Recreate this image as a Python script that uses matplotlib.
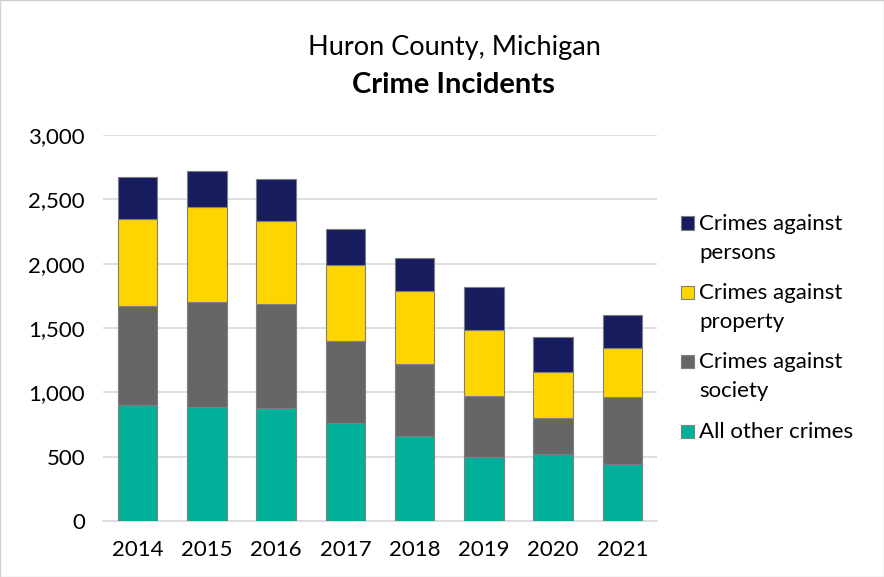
import matplotlib.pyplot as plt
import numpy as np

years = ['2014', '2015', '2016', '2017', '2018', '2019', '2020', '2021']
other = [900, 884, 879, 760, 659, 495, 521, 441]
society = [772, 817, 806, 640, 559, 480, 278, 526]
property_ = [679, 736, 643, 586, 570, 510, 357, 378]
persons = [324, 282, 327, 280, 257, 332, 272, 257]

series = [
    ('All other crimes', other, '#00B09B'),
    ('Crimes against\nsociety', society, '#666666'),
    ('Crimes against\nproperty', property_, '#FFD500'),
    ('Crimes against\npersons', persons, '#161C5E'),
]

plt.rcParams['font.family'] = ['Lato', 'DejaVu Sans']

W, H = 884, 577
fig = plt.figure(figsize=(W / 100, H / 100), dpi=100)
ax = fig.add_axes([103 / W, 1 - 521 / H, 554 / W, 386 / H])

x = np.arange(len(years))
bottom = np.zeros(len(years))
for label, vals, color in series:
    ax.bar(x, vals, 0.567, bottom=bottom, color=color, edgecolor='#7f7f7f',
           linewidth=0.8, label=label, zorder=3)
    bottom += np.array(vals)

ax.set_xlim(-0.5, len(years) - 0.5)
ax.set_ylim(0, 3000)
ax.set_yticks(range(0, 3001, 500))
ax.set_yticklabels([f'{v:,}' for v in range(0, 3001, 500)])
ax.set_xticks(x)
ax.set_xticklabels(years)
ax.tick_params(length=0, labelsize=16, colors='#000000')
ax.tick_params(axis='y', pad=13)
ax.tick_params(axis='x', pad=14)
ax.grid(axis='y', color='#d9d9d9', linewidth=1.2, zorder=0)
for s in ['top', 'right', 'left']:
    ax.spines[s].set_visible(False)
ax.spines['bottom'].set_color('#d9d9d9')
ax.spines['bottom'].set_linewidth(1.2)

fig.text(454 / W, 1 - 47 / H, 'Huron County, Michigan', ha='center', va='center', fontsize=19.5)
fig.text(453 / W, 1 - 85 / H, 'Crime Incidents', ha='center', va='center', fontsize=21,
         fontweight='bold')

# legend drawn by hand so the swatch sits on the first text line
legend_y = [223, 292, 361, 431]
for (label, vals, color), y in zip(series[::-1], legend_y):
    fig.patches.append(plt.Rectangle((681 / W, 1 - (y + 6.5) / H), 13 / W, 13 / H,
                                     transform=fig.transFigure, facecolor=color,
                                     edgecolor='#7f7f7f', linewidth=0.8))
    fig.text(699 / W, 1 - (y - 9) / H, label, ha='left', va='top', fontsize=16,
             linespacing=1.55)

fig.patches.append(plt.Rectangle((0, 0), 1, 1, transform=fig.transFigure, fill=False,
                                 edgecolor='#d0d0d0', linewidth=1))

fig.savefig('out.png', dpi=100)
